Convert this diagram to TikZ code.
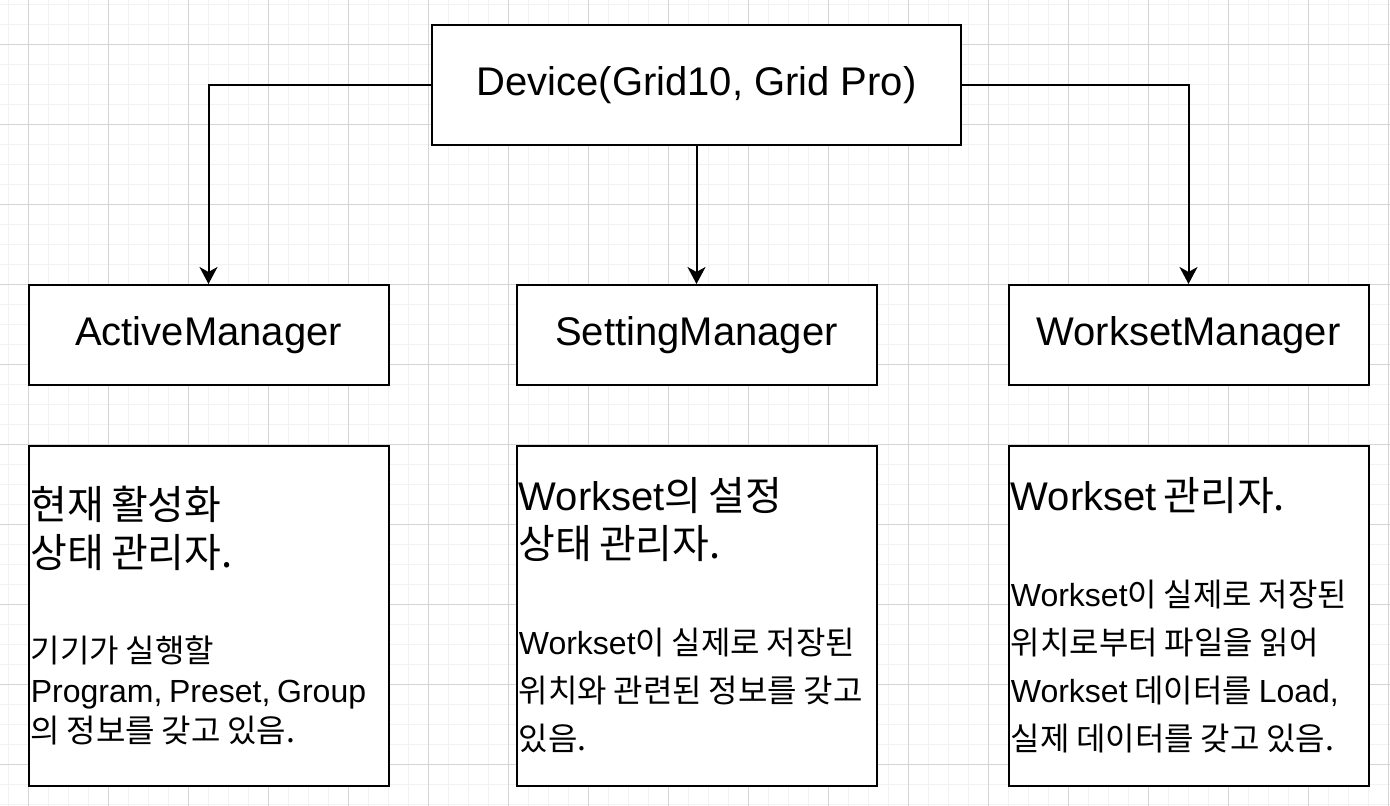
\documentclass[tikz,border=0pt]{standalone}
\usepackage{fontspec}
\setmainfont{Liberation Sans}
\newfontfamily\krfont{Noto Sans CJK KR}
\newcommand{\kr}[1]{{\krfont #1}}
\usepackage{tikz}
\usetikzlibrary{positioning}
\usetikzlibrary{arrows.meta}
\definecolor{gridminor}{HTML}{F2F2F2}
\definecolor{gridmajor}{HTML}{D5D5D5}
\tikzstyle{unit} = [rectangle, minimum width=180pt, minimum height=50pt, text centered, draw=black, line width=1pt, fill=white, font=\fontsize{20pt}{24pt}\selectfont]
\tikzstyle{device} = [unit, minimum width=264.5pt, minimum height=60pt]
\tikzstyle{note} = [rectangle, minimum height=170pt, text width=177.6pt, inner xsep=1.2pt, align=left, draw=black, line width=1pt, fill=white]
\tikzstyle{arrow} = [line width=1pt, -{Stealth[length=8.5pt, width=9pt, inset=2.5pt]}]

\begin{document}
\begin{tikzpicture}[x=.5pt, y=-.5pt]
            \useasboundingbox (0,0) rectangle (1390,806);
            \fill[white] (0,0) rectangle (1390,806);
            % grid
            \foreach \gx in {8.3,28.3,...,1390} \draw[gridminor, line width=.5pt] (\gx,0) -- (\gx,806);
            \foreach \gy in {4.3,24.3,...,806} \draw[gridminor, line width=.5pt] (0,\gy) -- (1390,\gy);
            \foreach \gx in {28.3,108.3,...,1390} \draw[gridmajor, line width=.5pt] (\gx,0) -- (\gx,806);
            \foreach \gy in {44.3,124.3,...,806} \draw[gridmajor, line width=.5pt] (0,\gy) -- (1390,\gy);

            \node (dev) [device] at (696.5,85) {Device(Grid10, Grid Pro)};
            \node (setting) [unit, below=69pt of dev] {SettingManager};
            \node (active) [unit, left=63pt of setting] {ActiveManager};
            \node (workset) [unit, right=65pt of setting] {WorksetManager};

            \node (activenote) [note, below=29.3pt of active] {{\fontsize{20pt}{24pt}\selectfont\kr{현재 활성화}\\\kr{상태 관리자.}\par}\vspace{27.5pt}{\fontsize{16pt}{20pt}\selectfont\kr{기기가 실행할}\\Program, Preset, Group\\\kr{의 정보를 갖고 있음.}\par}};
            \node (settingnote) [note, below=29.3pt of setting] {{\fontsize{20pt}{24pt}\selectfont Workset\kr{의 설정}\\\kr{상태 관리자.}\par}\vspace{24pt}{\fontsize{16pt}{24pt}\selectfont Workset\kr{이 실제로 저장된}\\\kr{위치와 관련된 정보를 갖고}\\\kr{있음.}\par}};
            \node (worksetnote) [note, below=29.3pt of workset] {{\fontsize{20pt}{24pt}\selectfont Workset \kr{관리자.}\par}\vspace{24pt}{\fontsize{16pt}{24pt}\selectfont Workset\kr{이 실제로 저장된}\\\kr{위치로부터 파일을 읽어}\\Workset \kr{데이터를} Load,\\\kr{실제 데이터를 갖고 있음.}\par}};

            \draw [arrow] (dev.west) -| (active.north);
            \draw [arrow] (dev) -- (setting);
            \draw [arrow] (dev.east) -| (workset.north);
        \end{tikzpicture}
\end{document}
